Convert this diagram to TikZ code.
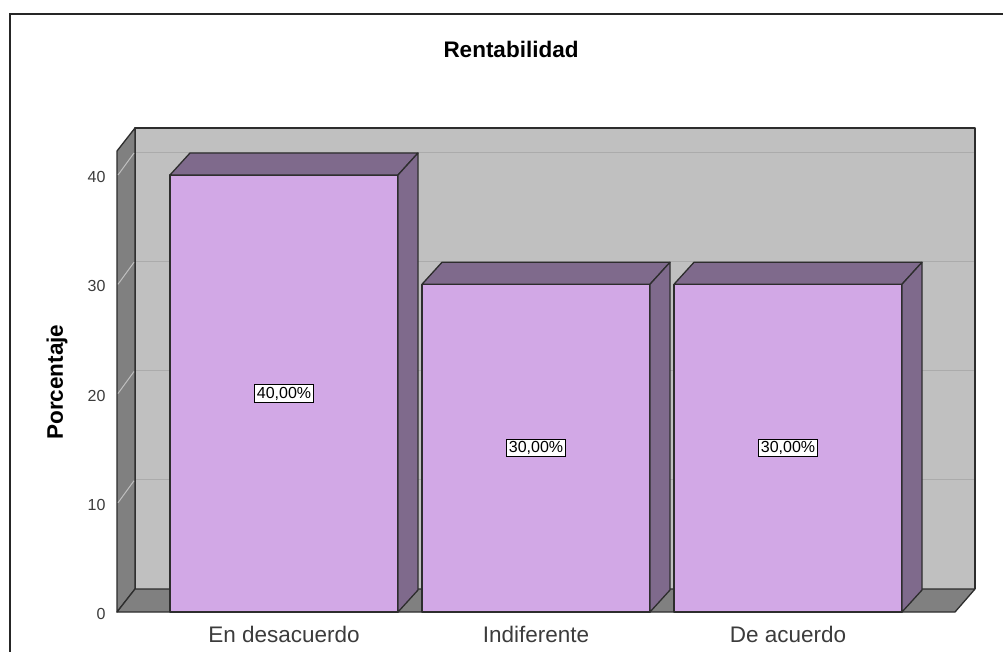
\documentclass[tikz,border=0pt]{standalone}
\usepackage{fontspec}
\setmainfont{Liberation Sans}
\usetikzlibrary{positioning}
\definecolor{barfront}{RGB}{210,168,230}
\definecolor{barside}{RGB}{127,106,140}
\definecolor{wallback}{RGB}{192,192,192}
\definecolor{walldark}{RGB}{128,128,128}
\definecolor{edgegray}{RGB}{45,45,45}
\definecolor{labelgray}{RGB}{60,60,60}
\tikzset{
    face/.style={
           draw=edgegray,
           line width=1.3pt,
           line join=round,
           },
    gridback/.style={draw=black!33, line width=1pt},
    gridleft/.style={draw=black!25, line width=1pt},
    pct/.style={
           rectangle,
           draw=black, fill=white,
           line width=1.1pt,
           inner sep=2pt,
           font=\fontsize{16}{16}\selectfont,
           },
    catlabel/.style={text=labelgray, font=\fontsize{22.5}{22.5}\selectfont},
    ticklabel/.style={text=labelgray, anchor=east, font=\fontsize{16}{16}\selectfont},
}

\begin{document}
\begin{tikzpicture}[x=1pt,y=-1pt]
   \useasboundingbox (0,0) rectangle (1003,651);
   \fill[white] (0,0) rectangle (1003,651);
   % outer frame
   \draw[line width=2pt, black!85] (10,670) -- (10,14) -- (1020,14);
   % back wall with grid
   \fill[wallback] (135,128) rectangle (975,589);
   \foreach \v in {10,20,30,40}
      \draw[gridback] (135,{589-10.925*\v}) -- (975,{589-10.925*\v});
   \draw[face] (135,589) -- (135,128) -- (975,128) -- (975,589);
   % left wall
   \filldraw[face, fill=walldark] (117,612) -- (117,151) -- (135,128) -- (135,589) -- cycle;
   \foreach \v in {10,20,30,40}
      \draw[gridleft] (118,{612-10.925*\v}) -- (134,{590-10.925*\v});
   % floor
   \filldraw[face, fill=walldark] (117,612) -- (135,589) -- (975,589) -- (955,612) -- cycle;
   % tick labels
   \foreach \v in {0,10,20,30,40}
      \node[ticklabel] (tick-\v) at (109,{614-10.925*\v}) {\v};
   % bars
   \foreach \xl/\v/\cat [count=\i] in {170/40/En desacuerdo, 422/30/Indiferente, 674/30/De acuerdo} {
      \pgfmathsetmacro{\yt}{612-10.925*\v}
      \pgfmathsetmacro{\xr}{\xl+228}
      \filldraw[face, fill=barfront] (\xl,612) rectangle (\xr,\yt);
      \filldraw[face, fill=barside] (\xl,\yt) -- (\xl+20,\yt-22) -- (\xr+20,\yt-22) -- (\xr,\yt) -- cycle;
      \filldraw[face, fill=barside] (\xr,612) -- (\xr,\yt) -- (\xr+20,\yt-22) -- (\xr+20,590) -- cycle;
      \node[pct] (val-\i) at (\xl+114,{(612+\yt)/2}) {\v,00\%};
      \node[catlabel] (cat-\i) at (\xl+114,634) {\cat};
   }
   % titles
   \node[font=\bfseries\fontsize{22.5}{22.5}\selectfont] (title) at (511,49) {Rentabilidad};
   \node[font=\bfseries\fontsize{22.5}{22.5}\selectfont, rotate=90] (ylabel) at (57,382) {Porcentaje};
\end{tikzpicture}
\end{document}
